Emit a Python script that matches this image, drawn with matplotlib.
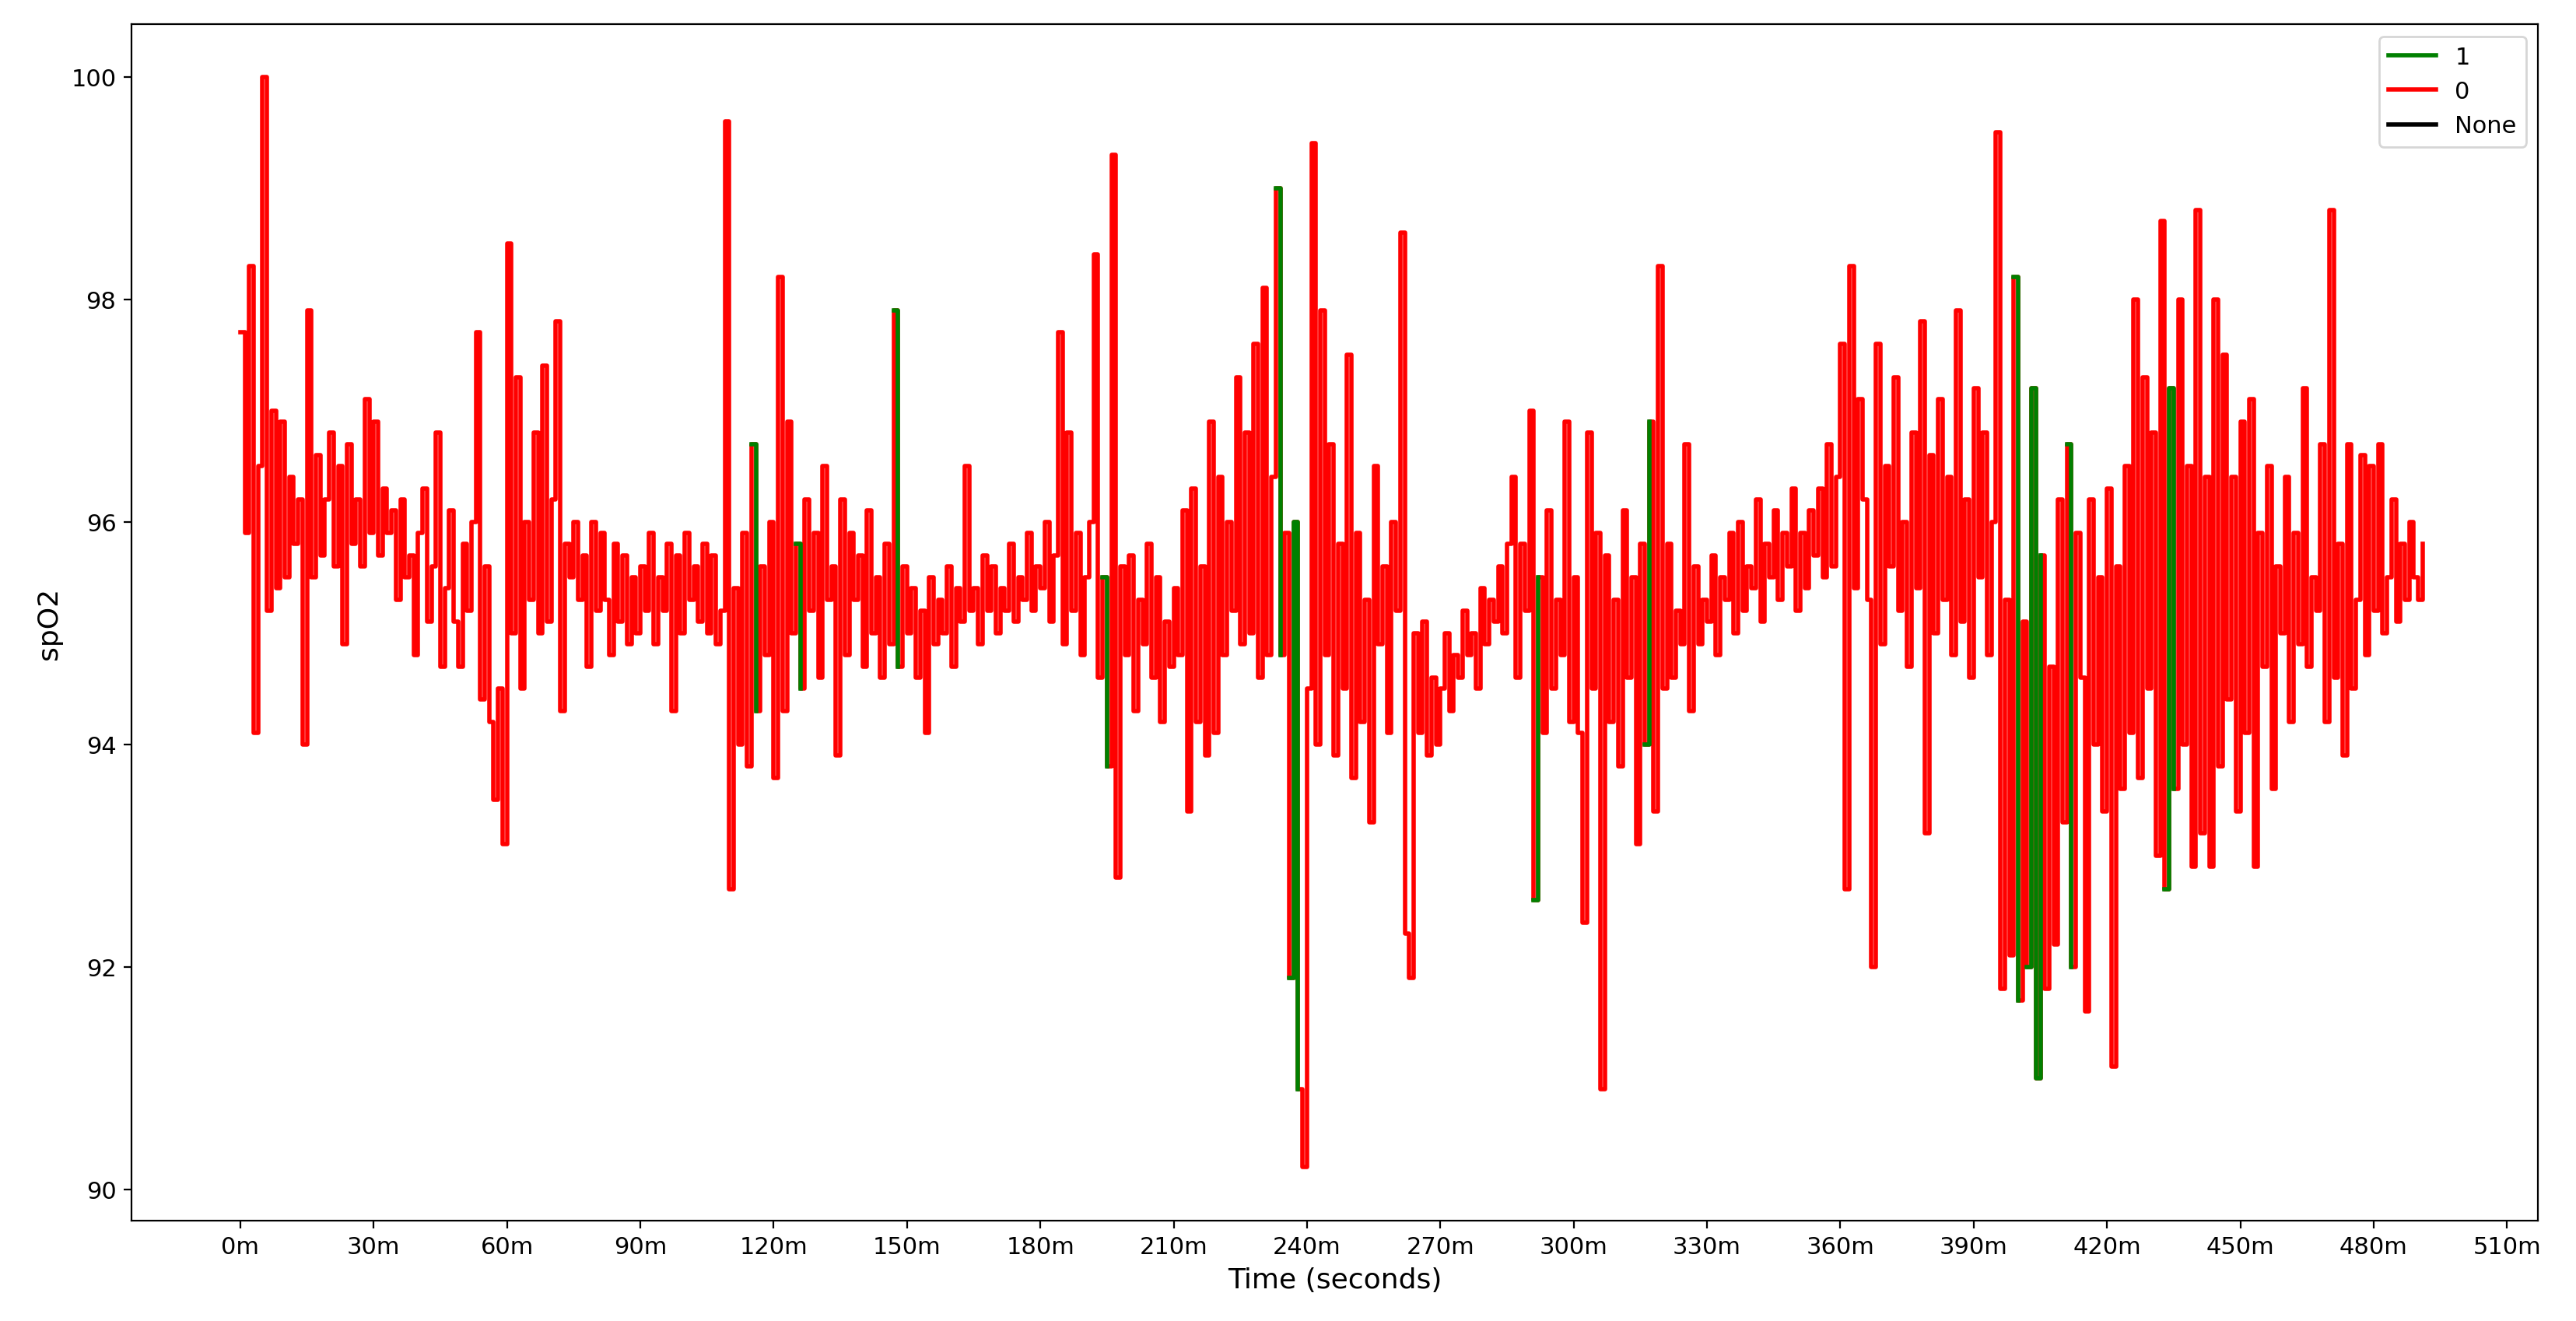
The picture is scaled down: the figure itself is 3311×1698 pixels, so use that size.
import numpy as np
import matplotlib
matplotlib.use("Agg")
import matplotlib.pyplot as plt
from matplotlib.lines import Line2D

spo2 = [
97.7,95.9,98.3,94.1,96.5,100.0,95.2,97.0,95.4,96.9,95.5,96.4,95.8,96.2,94.0,97.9,95.5,96.6,95.7,96.2,96.8,95.6,96.5,94.9,96.7,95.8,96.2,95.6,97.1,95.9,
96.9,95.7,96.3,95.9,96.1,95.3,96.2,95.5,95.7,94.8,95.9,96.3,95.1,95.6,96.8,94.7,95.4,96.1,95.1,94.7,95.8,95.2,96.0,97.7,94.4,95.6,94.2,93.5,94.5,93.1,
98.5,95.0,97.3,94.5,96.0,95.3,96.8,95.0,97.4,95.1,96.2,97.8,94.3,95.8,95.5,96.0,95.3,95.7,94.7,96.0,95.2,95.9,95.3,94.8,95.8,95.1,95.7,94.9,95.5,95.0,
95.6,95.2,95.9,94.9,95.5,95.2,95.8,94.3,95.7,95.0,95.9,95.3,95.6,95.1,95.8,95.0,95.7,94.9,95.2,99.6,92.7,95.4,94.0,95.9,93.8,96.7,94.3,95.6,94.8,96.0,
93.7,98.2,94.3,96.9,95.0,95.8,94.5,96.2,95.2,95.9,94.6,96.5,95.3,95.6,93.9,96.2,94.8,95.9,95.3,95.7,94.7,96.1,95.0,95.5,94.6,95.8,94.9,97.9,94.7,95.6,
95.0,95.4,94.6,95.2,94.1,95.5,94.9,95.3,95.0,95.6,94.7,95.4,95.1,96.5,95.2,95.4,94.9,95.7,95.2,95.6,95.0,95.4,95.2,95.8,95.1,95.5,95.3,95.9,95.2,95.6,
95.4,96.0,95.1,95.7,97.7,94.9,96.8,95.2,95.9,94.8,95.5,96.0,98.4,94.6,95.5,93.8,99.3,92.8,95.6,94.8,95.7,94.3,95.3,94.9,95.8,94.6,95.5,94.2,95.1,94.7,
95.4,94.8,96.1,93.4,96.3,94.2,95.6,93.9,96.9,94.1,96.4,94.8,96.0,95.2,97.3,94.9,96.8,95.0,97.6,94.6,98.1,94.8,96.4,99.0,94.8,95.9,91.9,96.0,90.9,90.2,
94.5,99.4,94.0,97.9,94.8,96.7,93.9,95.8,94.5,97.5,93.7,95.9,94.2,95.3,93.3,96.5,94.9,95.6,94.1,96.0,95.2,98.6,92.3,91.9,95.0,94.1,95.1,93.9,94.6,94.0,
94.5,95.0,94.3,94.8,94.6,95.2,94.8,95.0,94.5,95.4,94.9,95.3,95.1,95.6,95.0,95.8,96.4,94.6,95.8,95.2,97.0,92.6,95.5,94.1,96.1,94.5,95.3,94.8,96.9,94.2,
95.5,94.1,92.4,96.8,94.5,95.9,90.9,95.7,94.2,95.3,93.8,96.1,94.6,95.5,93.1,95.8,94.0,96.9,93.4,98.3,94.5,95.8,94.6,95.2,94.9,96.7,94.3,95.6,94.9,95.3,
95.1,95.7,94.8,95.5,95.3,95.9,95.0,96.0,95.2,95.6,95.4,96.2,95.1,95.8,95.5,96.1,95.3,95.9,95.6,96.3,95.2,95.9,95.4,96.1,95.7,96.3,95.5,96.7,95.6,96.4,
97.6,92.7,98.3,95.4,97.1,96.2,95.3,92.0,97.6,94.9,96.5,95.6,97.3,95.2,96.0,94.7,96.8,95.4,97.8,93.2,96.6,95.0,97.1,95.3,96.4,94.8,97.9,95.1,96.2,94.6,
97.2,95.5,96.8,94.8,96.0,99.5,91.8,95.3,92.1,98.2,91.7,95.1,92.0,97.2,91.0,95.7,91.8,94.7,92.2,96.2,93.3,96.7,92.0,95.9,94.6,91.6,96.2,94.0,95.5,93.4,
96.3,91.1,95.6,93.6,96.5,94.1,98.0,93.7,97.3,94.5,96.8,93.0,98.7,92.7,97.2,93.6,98.0,94.0,96.5,92.9,98.8,93.2,96.4,92.9,98.0,93.8,97.5,94.4,96.4,93.4,
96.9,94.1,97.1,92.9,95.9,94.7,96.5,93.6,95.6,95.0,96.4,94.2,95.9,94.9,97.2,94.7,95.5,95.2,96.7,94.2,98.8,94.6,95.8,93.9,96.7,94.5,95.3,96.6,94.8,96.5,
95.2,96.7,95.0,95.5,96.2,95.1,95.8,95.3,96.0,95.5,95.3,95.8,
]
minutes = list(range(len(spo2)))
# label-1 intervals (start minute, end minute)
label1_intervals = [(115, 116), (125, 126), (147, 148), (194, 195),
                    (233, 234), (236, 238), (291, 292), (316, 317),
                    (399, 400), (402, 405), (411, 412), (433, 435)]
xtick_minutes = list(range(0, 511, 30))
xtick_labels = [f"{m}m" for m in xtick_minutes]

fig = plt.figure(figsize=(16.56, 8.495), dpi=200)
ax = fig.add_axes([0.051, 0.076, 0.934, 0.905])
x = np.array(minutes)
y = np.array(spo2)
ax.plot(x, y, color="red", lw=2, drawstyle="steps-post", zorder=2)
for s, e in label1_intervals:
    ax.plot(x[s:e + 1], y[s:e + 1], color="green", lw=2, drawstyle="steps-post", zorder=3)

handles = [Line2D([], [], color="green", lw=2), Line2D([], [], color="red", lw=2),
           Line2D([], [], color="black", lw=2)]
ax.legend(handles, ["1", "0", "None"], loc="upper right", fontsize=11)
ax.set_xticks(xtick_minutes)
ax.set_xticklabels(xtick_labels)
ax.set_xlim(-24.5, 517)
ax.set_ylim(89.72, 100.47)
ax.tick_params(labelsize=11)
ax.set_xlabel("Time (seconds)", fontsize=13)
ax.set_ylabel("spO2", fontsize=13)
fig.savefig("out.png", dpi=200)
